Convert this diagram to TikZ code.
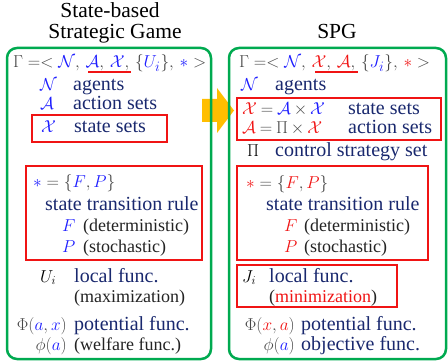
\documentclass[tikz,border=0pt]{standalone}
\usepackage{fontspec}
\setmainfont{Liberation Serif}
\definecolor{navy}{RGB}{25,40,110}
\definecolor{mgray}{RGB}{70,70,70}
\definecolor{mblue}{RGB}{30,30,255}
\definecolor{mred}{RGB}{240,20,20}
\definecolor{dgray}{RGB}{35,35,35}
\definecolor{grn}{RGB}{0,170,80}
\definecolor{arr}{RGB}{255,190,0}
\newcommand{\mb}[1]{\textcolor{mblue}{#1}}
\newcommand{\mr}[1]{\textcolor{mred}{#1}}
\begin{document}
\begin{tikzpicture}[x=1pt,y=-1pt,
  txt/.style={inner sep=0pt, anchor=base west, font=\fontsize{20}{24}\selectfont, text=navy},
  mth/.style={txt, text=mgray, font=\fontsize{18.5}{22}\selectfont},
  gam/.style={txt, text=mgray, font=\fontsize{19}{22}\selectfont},
  prn/.style={txt, font=\fontsize{18}{22}\selectfont, text=dgray},
  ttl/.style={inner sep=0pt, anchor=base, font=\fontsize{21.5}{25}\selectfont, text=black},
  greenbox/.style={draw=grn, line width=2.5pt, rounded corners=10pt},
  redbox/.style={draw=mred, line width=1.5pt},
  uline/.style={draw=mred, line width=1.3pt}]
\useasboundingbox (0,0) rectangle (448,361);
% arrow
\fill[arr] (202,99) -- (217,99) -- (217,88) -- (234,110.5) -- (217,133) -- (217,122) -- (202,122) -- cycle;
% green boxes
\draw[greenbox] (7,48) rectangle (211,359);
\draw[greenbox] (229,48) rectangle (446,359);
% titles
\node[ttl] (t1) at (110,18) {State-based};
\node[ttl] (t2) at (115,39) {Strategic Game};
\node[ttl] (t3) at (337,39) {SPG};
% ---------------- left
\node[gam] (lg) at (13,68) {$\thinmuskip=6mu \Gamma =< \mb{\mathcal N}, \mb{\mathcal A}, \mb{\mathcal X}, \{\mb{U_i}\}, \mb{\ast} >$};
\draw[uline] (88,72) -- (131,72);
\node[mth] (ln) at (40,91) {$\mb{\mathcal N}$};
\node[txt] (lnt) at (73,91) {agents};
\node[mth] (la) at (40,110) {$\mb{\mathcal A}$};
\node[txt] (lat) at (73,110) {action sets};
\draw[redbox] (32,115) rectangle (167,142);
\node[mth] (lx) at (41,133) {$\mb{\mathcal X}$};
\node[txt] (lxt) at (74,133) {state sets};
\draw[redbox] (26,166) rectangle (202,260);
\node[mth] (ls) at (33,188) {$\mb{\ast} = \{\mb{F}, \mb{P}\}$};
\node[txt] (lst) at (45,211) {state transition rule};
\node[mth] (lf) at (62,232) {$\mb{F}$};
\node[prn] (lft) at (83,232) {(deterministic)};
\node[mth] (lp) at (62,252) {$\mb{P}$};
\node[prn] (lpt) at (83,252) {(stochastic)};
\node[mth, text=black] (lu) at (40,282) {$U_i$};
\node[txt] (lut) at (74,282) {local func.};
\node[prn] (lum) at (74,302) {(maximization)};
\node[mth, anchor=base east] (lphi) at (67,330) {$\Phi(\mb{a},\mb{x})$};
\node[txt] (lphit) at (74,330) {potential func.};
\node[mth, anchor=base east] (lsphi) at (67,350) {$\phi(\mb{a})$};
\node[prn] (lsphit) at (74,350) {(welfare func.)};
% ---------------- right
\node[gam] (rg) at (239,68) {$\thinmuskip=6mu \Gamma =< \mb{\mathcal N}, \mr{\mathcal X}, \mr{\mathcal A}, \{\mb{J_i}\}, \mr{\ast} >$};
\draw[uline] (315,72) -- (358,72);
\node[mth] (rn) at (241,91) {$\mb{\mathcal N}$};
\node[txt] (rnt) at (275,91) {agents};
\draw[redbox] (237,98) rectangle (441,140);
\node[mth] (rx) at (242,115) {$\medmuskip=3mu\thickmuskip=4mu \mr{\mathcal X} = \mb{\mathcal A} \times \mb{\mathcal X}$};
\node[txt] (rxt) at (348,115) {state sets};
\node[mth] (ra) at (242,134) {$\medmuskip=3mu\thickmuskip=4mu \mr{\mathcal A} = \Pi \times \mr{\mathcal X}$};
\node[txt] (rat) at (348,134) {action sets};
\node[mth, text=black] (rpi) at (247,157) {$\Pi$};
\node[txt] (rpit) at (275,157) {control strategy set};
\draw[redbox] (237,166) rectangle (428,260);
\node[mth] (rs) at (246,189) {$\mr{\ast} = \{\mr{F}, \mr{P}\}$};
\node[txt] (rst) at (266,211) {state transition rule};
\node[mth] (rf) at (284,232) {$\mr{F}$};
\node[prn] (rft) at (304,232) {(deterministic)};
\node[mth] (rp) at (284,252) {$\mr{P}$};
\node[prn] (rpt) at (304,252) {(stochastic)};
\draw[redbox] (237,265) rectangle (397,307);
\node[mth, text=black] (rj) at (242,282) {$J_i$};
\node[txt] (rjt) at (269,282) {local func.};
\node[prn] (rjm) at (269,302) {(\textcolor{mred}{minimization})};
\node[mth, anchor=base east] (rphi) at (295,330) {$\Phi(\mr{x},\mr{a})$};
\node[txt] (rphit) at (301,330) {potential func.};
\node[mth, anchor=base east] (rsphi) at (295,350) {$\phi(\mb{a})$};
\node[txt] (rsphit) at (301,350) {objective func.};
\end{tikzpicture}
\end{document}
